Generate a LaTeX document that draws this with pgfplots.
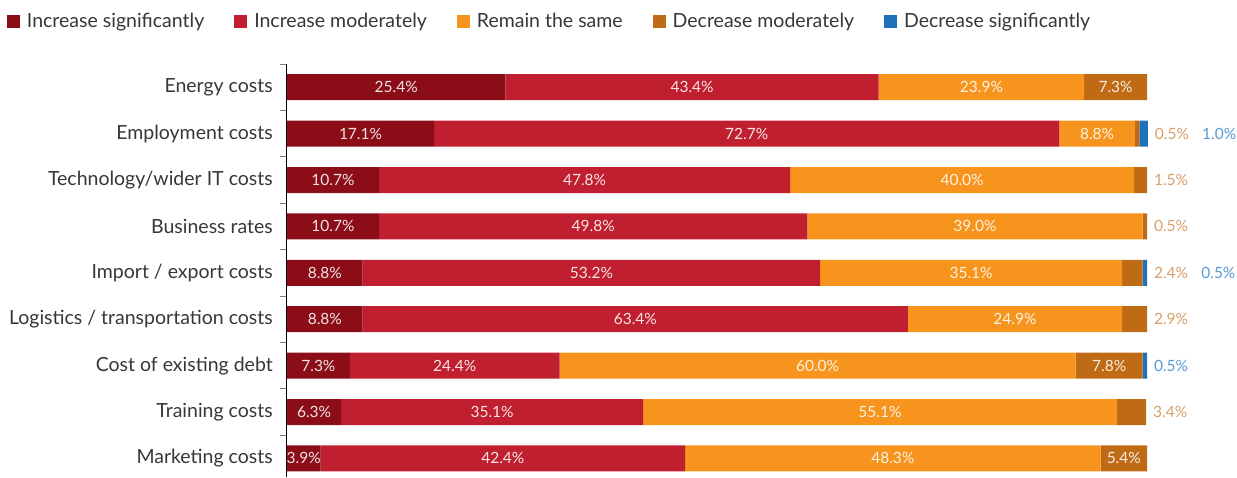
\documentclass[border=0pt]{standalone}
\usepackage{pgfplots}
\pgfplotsset{compat=1.18}
\usepackage{pgfplotstable}
\usepackage{fontspec}
\setmainfont{Lato}
\definecolor{cIS}{RGB}{139,13,24}
\definecolor{cIM}{RGB}{192,31,47}
\definecolor{cRS}{RGB}{247,148,29}
\definecolor{cDM}{RGB}{191,106,20}
\definecolor{cDS}{RGB}{31,114,186}
\definecolor{lDM}{RGB}{210,146,86}
\definecolor{lDS}{RGB}{90,152,212}
\definecolor{txt}{RGB}{55,55,55}

\pgfplotstableread{
cat is im rs dm ds
0 25.4 43.4 23.9 7.3 0
1 17.1 72.7 8.8 0.5 1.0
2 10.7 47.8 40.0 1.5 0
3 10.7 49.8 39.0 0.5 0
4 8.8 53.2 35.1 2.4 0.5
5 8.8 63.4 24.9 2.9 0
6 7.3 24.4 60.0 7.8 0.5
7 6.3 35.1 55.1 3.4 0
8 3.9 42.4 48.3 5.4 0
}\data

\newcommand\tofix[2]{\pgfmathfloatparsenumber{#1}\pgfmathfloattofixed{\pgfmathresult}\let#2\pgfmathresult}
\newcommand\pnum[1]{\pgfmathprintnumber[fixed,fixed zerofill,precision=1,assume math mode=true]{#1}\%}

\tikzset{lblfont/.style={font=\fontsize{15.5}{15.5}\selectfont, inner sep=0pt, anchor=center}}
\pgfplotsset{
  inlab/.style={
    visualization depends on={\thisrow{#1} \as \val},
    nodes near coords={\pnum{\val}},
    every node near coord/.append style={text=white, text opacity=0.88, lblfont},
  },
}

\begin{document}
\begin{tikzpicture}
\begin{axis}[
  at={(287pt,0pt)}, anchor=south west,
  scale only axis, width=860pt, height=413pt,
  xbar stacked, bar width=26pt,
  xmin=0, xmax=100,
  ymin=-0.5, ymax=8.4, y dir=reverse,
  axis x line=none, axis y line*=left,
  axis line style={color=black, line width=1pt},
  xtick=\empty,
  ytick={0,...,8},
  yticklabels={Energy costs, Employment costs, Technology/wider IT costs, Business rates, Import / export costs, Logistics / transportation costs, Cost of existing debt, Training costs, Marketing costs},
  minor ytick={-0.5,0.5,...,7.5},
  major tick length=0pt, minor tick length=7pt, tick align=outside,
  minor tick style={black!50, line width=1pt},
  yticklabel style={font=\fontsize{19.5}{19.5}\selectfont, text=txt, inner sep=0pt, xshift=-14pt},
  clip=false,
  legend columns=5,
  legend style={at={(axis description cs:-0.3256,1.104)}, anchor=west, draw=none, fill=none, inner sep=0pt, outer sep=0pt,
    font=\fontsize{19.5}{19.5}\selectfont, text=txt, nodes={inner sep=0pt},
    /tikz/every odd column/.append style={column sep=7pt},
    /tikz/every even column/.append style={column sep=30pt}},
  legend image code/.code={\fill[#1] (0pt,-6.5pt) rectangle (13pt,6.5pt);},
]
\addplot[fill=cIS, draw=none, inlab=is] table[x=is,y=cat]{\data};
\addplot[fill=cIM, draw=none, inlab=im] table[x=im,y=cat]{\data};
\addplot[fill=cRS, draw=none, inlab=rs] table[x=rs,y=cat]{\data};
\addplot[fill=cDM, draw=none,
  visualization depends on={\thisrow{dm} \as \val},
  visualization depends on={\thisrow{ds} \as \dsv},
  nodes near coords={\tofix{\val}\vfx\ifdim\vfx pt<3.6pt\relax\ifdim\vfx pt>0pt\relax\color{lDM}\pnum{\val}\fi\else\pnum{\val}\fi},
  every node near coord/.append style={/utils/exec={\tofix{\val}\vfx\tofix{\dsv}\dsfx}, xshift={ifthenelse(\vfx<3.6,(\dsfx+2.8+\vfx/2)*8.6,0)}, text=white, text opacity=0.88, lblfont},
] table[x=dm,y=cat]{\data};
\addplot[fill=cDS, draw=none,
  visualization depends on={\thisrow{ds} \as \val},
  visualization depends on={\thisrow{dm} \as \dmv},
  nodes near coords={\tofix{\val}\vfx\ifdim\vfx pt>0pt\relax\color{lDS}\pnum{\val}\fi},
  every node near coord/.append style={/utils/exec={\tofix{\dmv}\dmfx\tofix{\val}\vfx}, xshift={(ifthenelse(\dmfx<3.6,8.3,2.8)+\vfx/2)*8.6}, lblfont},
] table[x=ds,y=cat]{\data};
\legend{Increase significantly, Increase moderately, Remain the same, Decrease moderately, Decrease significantly}
\end{axis}
\pgfresetboundingbox
\path[use as bounding box] (0pt,0pt) rectangle (1237pt,477pt);
\end{tikzpicture}
\end{document}
